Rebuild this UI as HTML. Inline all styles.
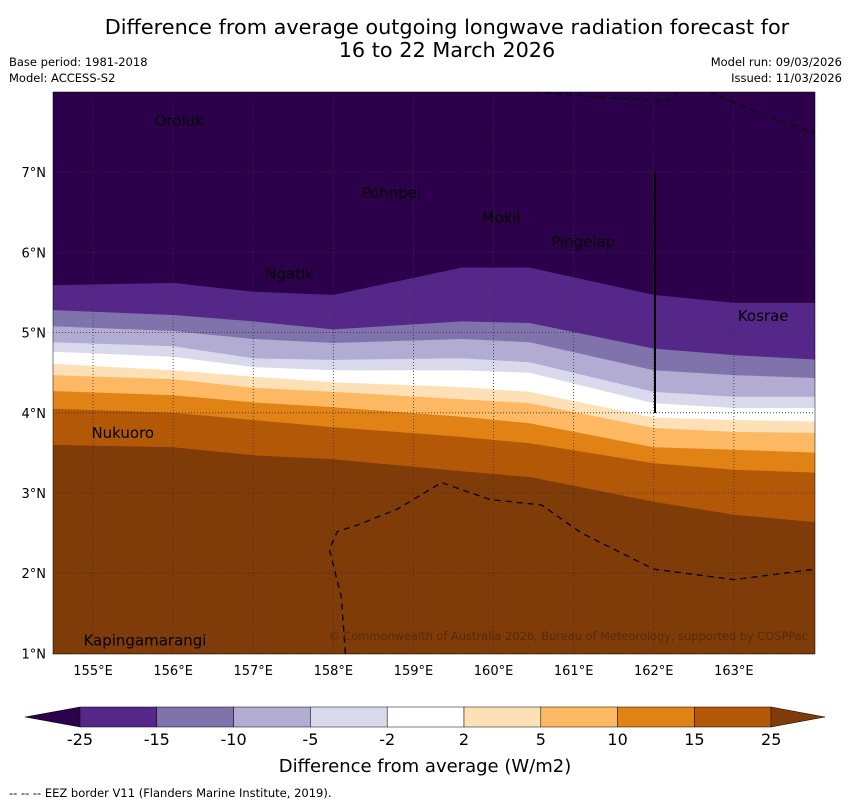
<!DOCTYPE html>
<html><head><meta charset="utf-8"><style>
body{margin:0;background:#fff;font-family:"Liberation Sans",sans-serif}
svg{display:block}
</style></head><body>
<svg width="850" height="804" xmlns="http://www.w3.org/2000/svg" font-family="DejaVu Sans, Liberation Sans, sans-serif">
<text x="447" y="34" font-size="20.8" text-anchor="middle">Difference from average outgoing longwave radiation forecast for</text>
<text x="447" y="57" font-size="20.8" text-anchor="middle">16 to 22 March 2026</text>
<text x="9" y="66" font-size="11.5">Base period: 1981-2018</text>
<text x="9" y="82" font-size="11.5">Model: ACCESS-S2</text>
<text x="842" y="66" font-size="11.5" text-anchor="end">Model run: 09/03/2026</text>
<text x="842" y="82" font-size="11.5" text-anchor="end">Issued: 11/03/2026</text>
<defs><clipPath id="pc"><rect x="53" y="92" width="762" height="562"/></clipPath></defs>
<g id="plot" clip-path="url(#pc)"></g>
<g id="axes"></g>
<g id="cbar"></g>
<text x="425" y="772" font-size="18" text-anchor="middle">Difference from average (W/m2)</text>
<text x="9" y="797" font-size="11.5">--  --  -- EEZ border V11 (Flanders Marine Institute, 2019).</text>
</svg>
<script>
const lons=[154.5,156,157,158,159.6,160.45,162,163,164.1];
const b1=[5.59,5.62,5.51,5.47,5.81,5.81,5.47,5.37,5.37];
const b2=[5.28,5.22,5.14,5.04,5.14,5.12,4.80,4.72,4.66];
const b3=[5.08,5.02,4.92,4.87,4.92,4.88,4.53,4.47,4.43];
const b4=[4.88,4.83,4.68,4.66,4.68,4.63,4.26,4.20,4.20];
const b5=[4.76,4.70,4.57,4.53,4.53,4.50,4.12,4.06,4.06];
const b6=[4.61,4.53,4.45,4.38,4.32,4.26,3.94,3.91,3.89];
const b7=[4.47,4.42,4.31,4.26,4.17,4.12,3.81,3.76,3.75];
const b8=[4.27,4.22,4.13,4.07,3.95,3.87,3.57,3.54,3.50];
const b9=[4.05,4.00,3.91,3.82,3.70,3.62,3.37,3.29,3.25];
const b10=[3.60,3.57,3.47,3.42,3.27,3.20,2.89,2.73,2.63];
const levels=["-25","-15","-10","-5","-2","2","5","10","15","25"];
const colors=["#2d004b","#542788","#8073ac","#b2abd2","#d8daeb","#ffffff","#fee0b6","#fdb863","#e08214","#b35806","#7f3b08"];
const lonTicks=[155,156,157,158,159,160,161,162,163];
const latTicks=[1,2,3,4,5,6,7];
const places=[["Oroluk",155.77,7.64],["Pohnpei",158.35,6.74],["Mokil",159.85,6.43],["Pingelap",160.72,6.13],["Ngatik",157.15,5.73],["Kosrae",163.05,5.21],["Nukuoro",154.98,3.75],["Kapingamarangi",154.88,1.16]];
const eezTop=[[160.5,8.0],[161.45,7.93],[162.14,7.88],[162.3,8.0]];
const eezTop2=[[162.7,8.0],[163.4,7.7],[164.1,7.46]];
const eezBot=[[158.15,1.0],[158.1,1.7],[157.95,2.3],[158.05,2.52],[158.3,2.6],[158.8,2.8],[159.35,3.13],[159.95,2.92],[160.6,2.85],[161.1,2.5],[162.0,2.05],[163.0,1.92],[164.1,2.06]];
const NS="http://www.w3.org/2000/svg";
const X=l=>53+(l-154.5)*80.1, Y=t=>92+(8-t)*80.2;
function mk(tag,attrs,parent){const e=document.createElementNS(NS,tag);for(const k in attrs)e.setAttribute(k,attrs[k]);parent.appendChild(e);return e;}
const plot=document.getElementById('plot'),axes=document.getElementById('axes'),cbar=document.getElementById('cbar');
let r=mk('rect',{x:53,y:92,width:762,height:562,fill:colors[0]},plot);


[b1,b2,b3,b4,b5,b6,b7,b8,b9,b10].forEach((b,i)=>{
  let d='M'+lons.map((l,j)=>X(l).toFixed(1)+','+Y(b[j]).toFixed(1)).join(' L')+' L'+X(lons[lons.length-1])+',700 L'+X(lons[0])+',700 Z';
  const p=mk('path',{d:d,fill:colors[i+1]},plot);
  
  
});
lonTicks.forEach(l=>{const g=mk('line',{x1:X(l),x2:X(l),y1:92,y2:654,stroke:'#333',"stroke-width":0.8,"stroke-dasharray":"1,2"},plot);


const t=mk('text',{x:X(l),y:675,"font-size":13,"text-anchor":"middle"},axes);t.textContent=l+'°E';

});
latTicks.forEach(l=>{const g=mk('line',{x1:53,x2:815,y1:Y(l),y2:Y(l),stroke:'#333',"stroke-width":0.8,"stroke-dasharray":"1,2"},plot);


const t=mk('text',{x:46,y:Y(l)+5,"font-size":13,"text-anchor":"end"},axes);t.textContent=l+'°N';

});
[eezTop,eezTop2,eezBot].forEach(s=>{const p=mk('polyline',{points:s.map(q=>X(q[0])+','+Y(q[1])).join(' '),fill:'none',stroke:'#000',"stroke-width":1.3,"stroke-dasharray":"6,5"},plot);

});
const vl=mk('line',{x1:655,x2:655,y1:172,y2:413,stroke:'#000',"stroke-width":2},plot);


places.forEach(p=>{const t=mk('text',{x:X(p[1]),y:Y(p[2])+5,"font-size":15,fill:'#000'},plot);t.textContent=p[0];

});
const cp=mk('text',{x:808,y:640,"font-size":11.4,fill:'#5a2a05',"text-anchor":"end"},plot);cp.textContent='© Commonwealth of Australia 2026, Bureau of Meteorology, supported by COSPPac';


const cx=i=>80+i*76.8, cy0=707, ch=20;
let tri=mk('polygon',{points:`25,717 80,${cy0} 80,${cy0+ch}`,fill:colors[0],stroke:'#000',"stroke-width":0.5},cbar);


for(let i=0;i<9;i++){const b=mk('rect',{x:cx(i),y:cy0,width:76.8,height:ch,fill:colors[i+1],stroke:'#000',"stroke-width":0.5},cbar);

}
tri=mk('polygon',{points:`771,${cy0} 825,717 771,${cy0+ch}`,fill:colors[10],stroke:'#000',"stroke-width":0.5},cbar);


levels.forEach((v,i)=>{const t=mk('text',{x:cx(i),y:745,"font-size":16,"text-anchor":"middle"},cbar);t.textContent=v;

});
const fr=mk('rect',{x:53,y:92,width:762,height:562,fill:'none',stroke:'#000',"stroke-width":0.5},axes);


</script>
</body></html>
